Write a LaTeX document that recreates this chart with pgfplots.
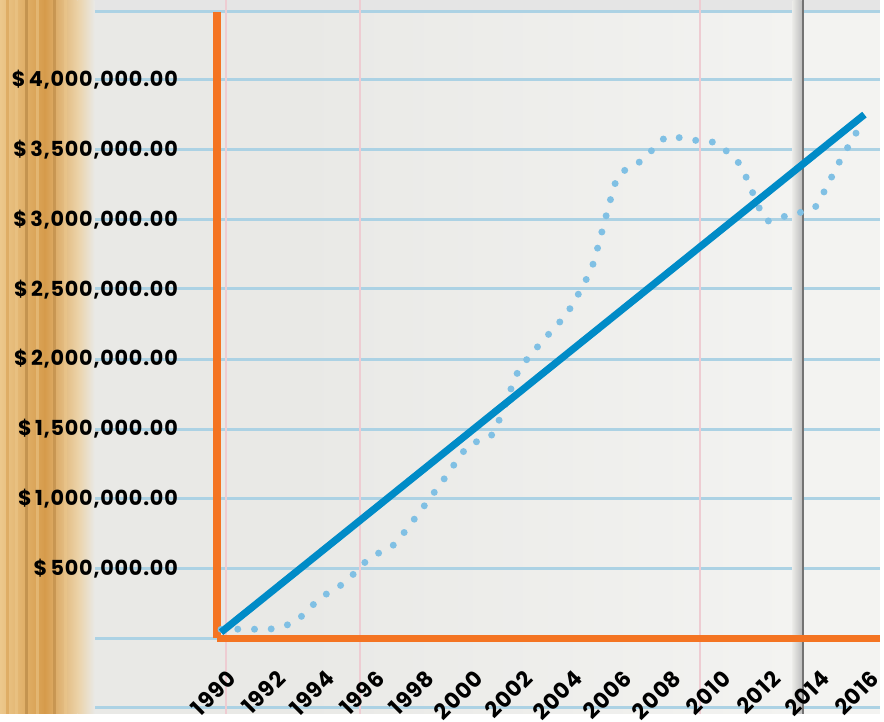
\documentclass[border=0pt]{standalone}
\usepackage{pgfplots}
\pgfplotsset{compat=1.18}
\usepackage{fontspec}
\setmainfont{Poppins}

\definecolor{axisorange}{RGB}{244,116,34}
\definecolor{trendblue}{RGB}{0,139,199}
\definecolor{dotblue}{RGB}{128,192,228}
\definecolor{paper}{RGB}{233,233,230}
\definecolor{paperlight}{RGB}{243,243,241}
\definecolor{ruleblue}{RGB}{172,210,228}
\definecolor{marginpink}{RGB}{238,204,210}
\definecolor{woodlight}{RGB}{236,200,140}
\definecolor{wooddark}{RGB}{214,155,75}

\begin{document}
\begin{tikzpicture}
% notebook background, in image pixels (y down)
\begin{scope}[yshift=358.5pt, x=0.5pt, y=-0.5pt]
  \useasboundingbox (0,0) rectangle (884,717);
  \fill[paper] (0,0) rectangle (884,717);
  \shade[left color=paper, right color=paperlight] (300,0) rectangle (800,717);
  \fill[paperlight] (806,0) rectangle (884,717);
  \fill[black!10] (0,0) rectangle (884,11);
  % rule lines
  \foreach \yy in {12,80,150,220,290,361,431,501,571,641,711}
    \draw[ruleblue, line width=1.5pt] (0,\yy) -- (884,\yy);
  % margin lines
  \foreach \xx in {227,362,703}
    \draw[marginpink, line width=1pt] (\xx,0) -- (\xx,717);
  % page fold
  \shade[left color=paper, right color=black!25] (796,0) rectangle (805,717);
  \fill[black!55] (805,0) rectangle (807,717);
  % wood strip
  \shade[left color=woodlight, right color=wooddark] (0,0) rectangle (45,717);
  \shade[left color=wooddark, right color=woodlight!70!paper] (45,0) rectangle (78,717);
  \shade[left color=woodlight!70!paper, right color=paper] (78,0) rectangle (95,717);
  \foreach \xx/\cc in {8/wooddark, 17/woodlight, 27/wooddark!80!black, 38/woodlight, 55/wooddark!85!black, 66/woodlight}
    \draw[\cc, line width=1.5pt, opacity=0.5] (\xx,0) -- (\xx,717);
\end{scope}

\begin{axis}[
    at={(109pt,38pt)}, anchor=south west,
    scale only axis, width=333pt, height=314.5pt,
    xmin=1989.84, xmax=2016.64,
    ymin=0, ymax=4485000,
    axis x line=bottom, axis y line=left,
    axis line style={draw=axisorange, line width=3.75pt, -},
    major tick length=0pt,
    no markers,
    xtick={1990,1992,1994,1996,1998,2000,2002,2004,2006,2008,2010,2012,2014,2016},
    xticklabels={1990,1992,1994,1996,1998,2000,2002,2004,2006,2008,2010,2012,2014,2016},
    ytick={500000,1000000,1500000,2000000,2500000,3000000,3500000,4000000},
    yticklabels={{\$\,500,000.00},{\$\,1,000,000.00},{\$\,1,500,000.00},{\$\,2,000,000.00},
                 {\$\,2,500,000.00},{\$\,3,000,000.00},{\$\,3,500,000.00},{\$\,4,000,000.00}},
    scaled y ticks=false,
    ticklabel style={text=black},
    xticklabel style={font=\bfseries\fontsize{11}{13}\selectfont\addfontfeature{LetterSpace=4},
                      inner sep=0pt, xshift=5.5pt, yshift=-18pt, rotate=45, anchor=east},
    yticklabel style={font=\bfseries\fontsize{10.4}{12}\selectfont\addfontfeature{LetterSpace=4},
                      inner sep=0pt, xshift=-19.5pt, anchor=east},
]
% yearly values (dotted)
\addplot[dotblue, line width=3.5pt, line cap=round, dash pattern=on 0pt off 8.4pt,
         smooth, tension=0.3] coordinates {
  (1990,64000) (1991,66000) (1992,66000) (1993,118000) (1994,287000)
  (1995,399000) (1996,574000) (1997,672000) (1998,898000) (1999,1137000)
  (2000,1381000) (2001,1467000) (2002,1909000) (2003,2130000) (2004,2332000)
  (2005,2662000) (2006,3293000) (2007,3421000) (2008,3591000) (2009,3568000)
  (2010,3546000) (2011,3385000) (2012,2995000) (2013,3037000) (2014,3085000)
  (2015,3415000) (2016,3720000)
};
% trend line
\addplot[trendblue, line width=3.6pt] coordinates {(1990,43000) (2016,3750000)};
\end{axis}
\end{tikzpicture}
\end{document}
